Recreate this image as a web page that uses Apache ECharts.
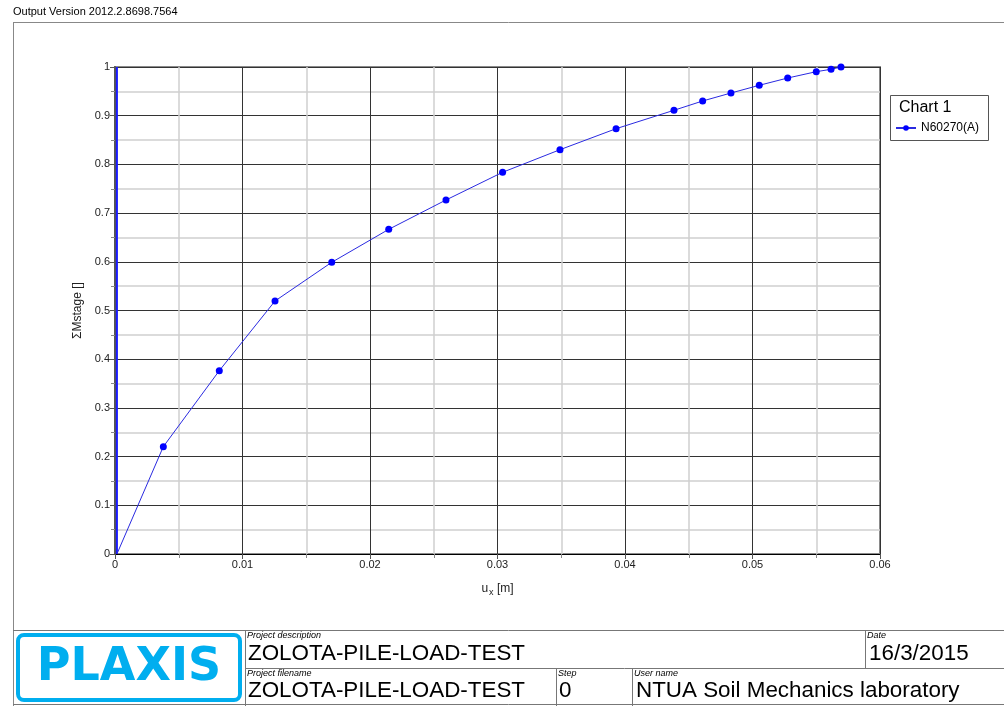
<!DOCTYPE html>
<html>
<head>
<meta charset="utf-8">
<title>ZOLOTA-PILE-LOAD-TEST</title>
<script src="https://cdn.jsdelivr.net/npm/echarts@6/dist/echarts.min.js"></script>
<style>
  html, body { margin: 0; padding: 0; background: #fff; }
  #chart { width: 1004px; height: 706px; }
</style>
</head>
<body>
<div id="chart"></div>
<script>
// Initial stage: load applied with almost no lateral movement
const riseUx = [0.00015, 0.00015, 0.00015, 0.00015, 0.00015, 0.00015];
const riseM  = [0, 0.35, 0.40, 0.73, 1.0, 0];

// Lateral loading stage of node N60270(A): displacement u_x [m] vs ΣMstage
const ux = [0.00015, 0.00379, 0.00818, 0.01255, 0.0170, 0.02147, 0.02596, 0.0304, 0.0349, 0.0393,
            0.04384, 0.04609, 0.04831, 0.05053, 0.05276, 0.055, 0.05616, 0.05694];
const mStage = [0, 0.2204, 0.3764, 0.5195, 0.599, 0.6667, 0.7269, 0.7838, 0.8302, 0.8733,
                0.9111, 0.9302, 0.9466, 0.9624, 0.9774, 0.9904, 0.9953, 1.0];

const seriesName = 'N60270(A)';
const xTickStep = 0.01;
const yTickStep = 0.1;

const FONT = '"Liberation Sans", Arial, sans-serif';
const chart = echarts.init(document.getElementById('chart'), null, { renderer: 'canvas' });

const fmt = v => (v === 0 ? '0' : String(+v.toFixed(3)));

const riseData = riseUx.map((x, i) => [x, riseM[i]]);
const mainData = ux.map((x, i) => (i === 0 ? { value: [x, mStage[i]], symbol: 'none' } : [x, mStage[i]]));

const txt = (x, y, text, size, extra) => ({
  type: 'text', left: x, top: y, silent: true,
  style: Object.assign({ text, font: size + 'px ' + FONT, fill: '#000' }, extra || {})
});
const hline = (x1, x2, y, c) => ({ type: 'line', silent: true, shape: { x1, y1: y, x2, y2: y }, style: { stroke: c || '#777', lineWidth: 1 } });
const vline = (x, y1, y2, c) => ({ type: 'line', silent: true, shape: { x1: x, y1, x2: x, y2 }, style: { stroke: c || '#777', lineWidth: 1 } });
const BIG = 22.4;

chart.setOption({
  animation: false,
  backgroundColor: '#fff',
  textStyle: { fontFamily: FONT },
  grid: {
    left: 115, top: 67, width: 765, height: 487,
    show: true, borderColor: '#8a8a8a', borderWidth: 2, backgroundColor: 'transparent'
  },
  legend: {
    show: true,
    data: [seriesName],
    left: 895, top: 122,
    padding: 0,
    itemWidth: 20, itemHeight: 7,
    textStyle: { fontSize: 12, color: '#000', fontFamily: FONT }
  },
  xAxis: {
    type: 'value',
    min: 0, max: 0.06, interval: xTickStep,
    name: '{n|u}{s|x}{n| [m]}',
    nameLocation: 'middle', nameGap: 26,
    nameTextStyle: {
      rich: {
        n: { fontSize: 12, color: '#222', fontFamily: FONT },
        s: { fontSize: 9, color: '#222', fontFamily: FONT, padding: [8, 0, 0, 1] }
      }
    },
    axisLine: { show: true, onZero: false, lineStyle: { color: '#000', width: 1 } },
    axisTick: { show: true, length: 5, lineStyle: { color: '#555' } },
    minorTick: { show: true, splitNumber: 2, length: 4, lineStyle: { color: '#888' } },
    axisLabel: { fontSize: 11, color: '#222', margin: 5, formatter: fmt, fontFamily: FONT },
    splitLine: { show: true, lineStyle: { color: '#333', width: 1 } },
    minorSplitLine: { show: true, lineStyle: { color: '#cfcfcf', width: 1.5 } }
  },
  yAxis: {
    type: 'value',
    min: 0, max: 1, interval: yTickStep,
    name: 'ΣMstage []',
    nameLocation: 'middle', nameGap: 29, nameRotate: 90,
    nameTextStyle: { fontSize: 12, color: '#222', fontFamily: FONT },
    axisLine: { show: true, onZero: false, lineStyle: { color: '#555', width: 2 } },
    axisTick: { show: true, length: 5, lineStyle: { color: '#555' } },
    minorTick: { show: true, splitNumber: 2, length: 4, lineStyle: { color: '#888' } },
    axisLabel: { fontSize: 11, color: '#222', margin: 5, formatter: fmt, fontFamily: FONT },
    splitLine: { show: true, lineStyle: { color: '#333', width: 1 } },
    minorSplitLine: { show: true, lineStyle: { color: '#cfcfcf', width: 1.5 } }
  },
  series: [
    {
      name: 'rise',
      type: 'line',
      data: riseData,
      symbol: 'none',
      lineStyle: { color: '#1a1aff', width: 2 },
      z: 3
    },
    {
      name: seriesName,
      type: 'line',
      data: mainData,
      symbol: 'circle',
      symbolSize: 7,
      itemStyle: { color: '#0000ff' },
      lineStyle: { color: '#2a2ae0', width: 1 },
      z: 4
    }
  ],
  graphic: [
    // header
    txt(13, 6, 'Output Version 2012.2.8698.7564', 11),
    // outer frame
    hline(13, 1004, 22.5, '#888'),
    vline(13.5, 22, 706, '#888'),
    // legend frame
    { type: 'rect', silent: true, shape: { x: 890.5, y: 95.5, width: 98, height: 45 },
      style: { fill: '#fff', stroke: '#555', lineWidth: 1 }, z: -1 },
    txt(899, 100, 'Chart 1', 16),
    // title block
    hline(13, 1004, 630.5, '#777'),
    hline(245, 1004, 668.5, '#777'),
    hline(13, 1004, 704.5, '#777'),
    vline(245.5, 630, 706, '#777'),
    vline(865.5, 630, 669, '#777'),
    vline(556.5, 669, 706, '#777'),
    vline(632.5, 669, 706, '#777'),
    { type: 'rect', silent: true, shape: { x: 18, y: 635, width: 222, height: 65, r: 6 },
      style: { fill: 'none', stroke: '#00aeef', lineWidth: 4 } },
    { type: 'text', silent: true, x: 129, y: 668,
      style: { text: 'PLAXIS', align: 'center', verticalAlign: 'middle',
               font: 'bold 46px "DejaVu Sans", ' + FONT, fill: '#00aeef' } },
    txt(247, 631, 'Project description', 9, { font: 'italic 9px ' + FONT }),
    txt(248, 643, 'ZOLOTA-PILE-LOAD-TEST', BIG),
    txt(867, 631, 'Date', 9, { font: 'italic 9px ' + FONT }),
    txt(869, 643, '16/3/2015', BIG),
    txt(247, 669, 'Project filename', 9, { font: 'italic 9px ' + FONT }),
    txt(248, 680, 'ZOLOTA-PILE-LOAD-TEST', BIG),
    txt(558, 669, 'Step', 9, { font: 'italic 9px ' + FONT }),
    txt(559, 680, '0', BIG),
    txt(634, 669, 'User name', 9, { font: 'italic 9px ' + FONT }),
    txt(636, 680, 'NTUA Soil Mechanics laboratory', BIG)
  ]
});
</script>
</body>
</html>
